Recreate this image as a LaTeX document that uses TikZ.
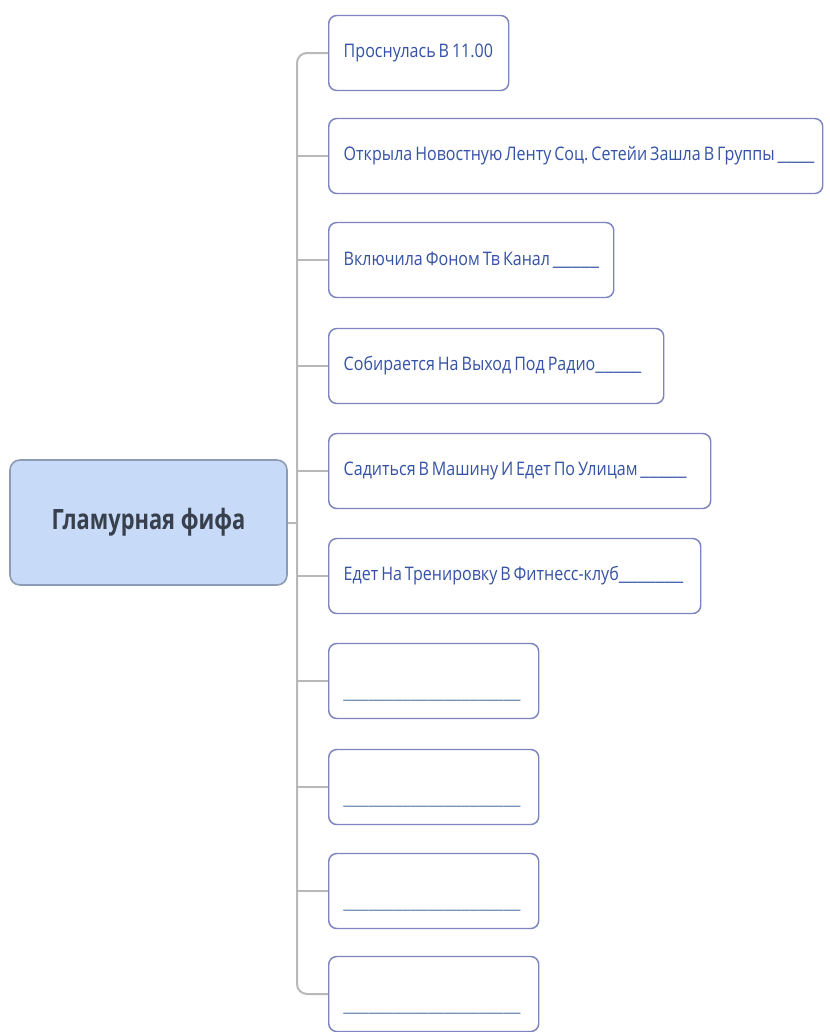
\documentclass[tikz,border=0pt]{standalone}
\usepackage{fontspec}
\setmainfont{Open Sans}
\newfontfamily\labfont[FakeStretch=0.86]{Open Sans}
\newfontfamily\rootfont[FakeStretch=0.78]{Open Sans}
\newfontfamily\undfont[FakeStretch=1.1]{Open Sans}
\newcommand{\blanks}[1]{{\undfont\foreach\k in {1,...,#1}{\_}}}
% one line of branch text with tight word spacing
\newcommand{\lab}[1]{\mbox{\frenchspacing\spaceskip 2.2pt\relax #1}}
\definecolor{edgegray}{HTML}{B8B8B8}
\definecolor{boxline}{HTML}{7E85BE}
\definecolor{labtext}{HTML}{3552A6}
\definecolor{rootfill}{HTML}{C7DAF8}
\definecolor{rootline}{HTML}{8E9BB5}
\definecolor{roottext}{HTML}{38404D}
\definecolor{blankline}{HTML}{6F8DB0}
\tikzset{
  conn/.style={draw=edgegray, line width=1.5pt},
  rootbox/.style={draw=rootline, line width=1.2pt, fill=rootfill, rounded corners=7.5pt,
    minimum width=207.75pt, minimum height=93.75pt, inner sep=0pt,
    font=\rootfont\bfseries\fontsize{21}{25}\selectfont, text=roottext},
  leaf/.style={draw=boxline, line width=1.1pt, fill=white, rounded corners=6pt,
    anchor=west, minimum height=56.25pt, inner xsep=11.25pt, inner ysep=0pt,
    align=left, text=labtext, font=\labfont\fontsize{14}{16}\selectfont},
  blank/.style={font=\bfseries\fontsize{14}{16}\selectfont, text=blankline, anchor=west, inner sep=0pt}
}
\begin{document}
\begin{tikzpicture}[x=0.75pt, y=-0.75pt]
  \useasboundingbox (0,0) rectangle (830,1032);
  \fill[white] (0,0) rectangle (830,1032);

  % central topic
  \node[rootbox] (root) at (148.5,522.5) {Гламурная фифа};

  % branch boxes
  \node[leaf, text width=112.5pt] (b1) at (328,53) {\lab{Проснулась В 11.00}};
  \node[leaf, text width=348pt] (b2) at (328,156) {\lab{Открыла Новостную Ленту Соц. Сетейи Зашла В Группы \blanks{4}}};
  \node[leaf, text width=191.25pt] (b3) at (328,260) {\lab{Включила Фоном Тв Канал \blanks{5}}};
  \node[leaf, text width=228.75pt] (b4) at (328,366) {\lab{Собирается На Выход Под Радио\blanks{5}}};
  \node[leaf, text width=264pt] (b5) at (328,471) {\lab{Садиться В Машину И Едет По Улицам \blanks{5}}};
  \node[leaf, text width=256.5pt] (b6) at (328,576) {\lab{Едет На Тренировку В Фитнесс-клуб\blanks{7}}};
  \node[leaf, text width=135pt] (b7) at (328,681) {};
  \node[leaf, text width=135pt] (b8) at (328,787) {};
  \node[leaf, text width=135pt] (b9) at (328,891) {};
  \node[leaf, text width=135pt] (b10) at (328,994) {};

  % blank answer lines
  \foreach \b in {7,8,9,10}{
    \node[blank] (u\b) at ([xshift=11.25pt, yshift=-14.5pt]b\b.west) {\blanks{21}};
  }

  % trunk
  \coordinate (ttop) at (297,53);
  \coordinate (tbot) at (297,994);
  \draw[conn, rounded corners=7.5pt] (b1.west) -- (ttop) -- (tbot) -- (b10.west);
  \foreach \b in {2,...,9}{
    \draw[conn] (b\b.west) -- (b\b.west -| ttop);
  }
  \draw[conn] (root.east) -- (root.east -| ttop);
\end{tikzpicture}
\end{document}
